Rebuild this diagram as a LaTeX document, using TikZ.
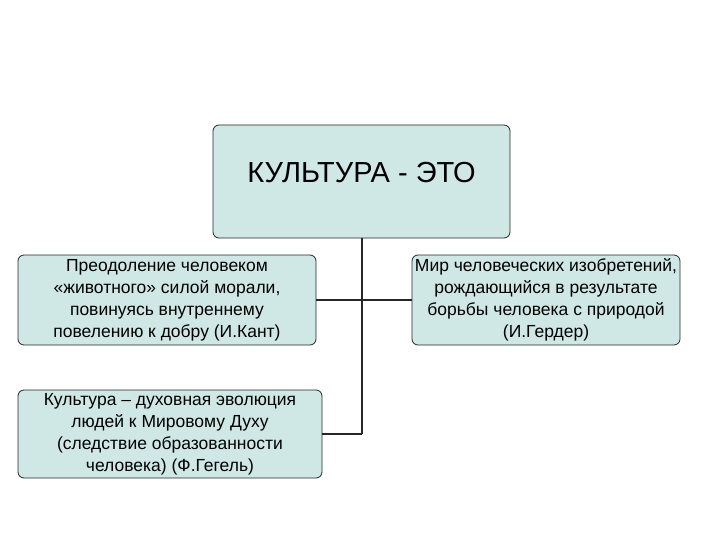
\documentclass[tikz,border=0pt]{standalone}
\usepackage{fontspec}
\setmainfont{Liberation Sans}
\definecolor{boxfill}{HTML}{CFE8E6}
\begin{document}
\begin{tikzpicture}[x=1pt,y=-1pt,
  box/.style={draw=black!85,line width=0.8pt,fill=boxfill,rounded corners=6pt,align=center,inner sep=1pt,font=\fontsize{17.5}{22}\selectfont},
  conn/.style={line width=1.6pt,black!85}]
\useasboundingbox (0,0) rectangle (720,540);
\node[box,minimum width=297,minimum height=113] (top) at (361.5,181.5) {};
\node[font=\fontsize{29}{32}\selectfont] (toptext) at (361.5,173) {КУЛЬТУРА - ЭТО};
\node[box,minimum width=298,minimum height=90] (kant) at (167,300) {Преодоление человеком\\«животного» силой морали,\\повинуясь внутреннему\\повелению к добру (И.Кант)};
\node[box,minimum width=268,minimum height=90] (herder) at (546,300) {Мир человеческих изобретений,\\рождающийся в результате\\борьбы человека с природой\\(И.Гердер)};
\node[box,minimum width=304,minimum height=88] (hegel) at (170,434) {Культура – духовная эволюция\\людей к Мировому Духу\\(следствие образованности\\человека) (Ф.Гегель)};
\coordinate (j1) at (362,300);
\coordinate (j2) at (362,434);
\draw[conn] (top.south -| j1) -- (j2);
\draw[conn] (kant.east) -- (herder.west);
\draw[conn] (j2) -- (hegel.east);
\end{tikzpicture}
\end{document}
